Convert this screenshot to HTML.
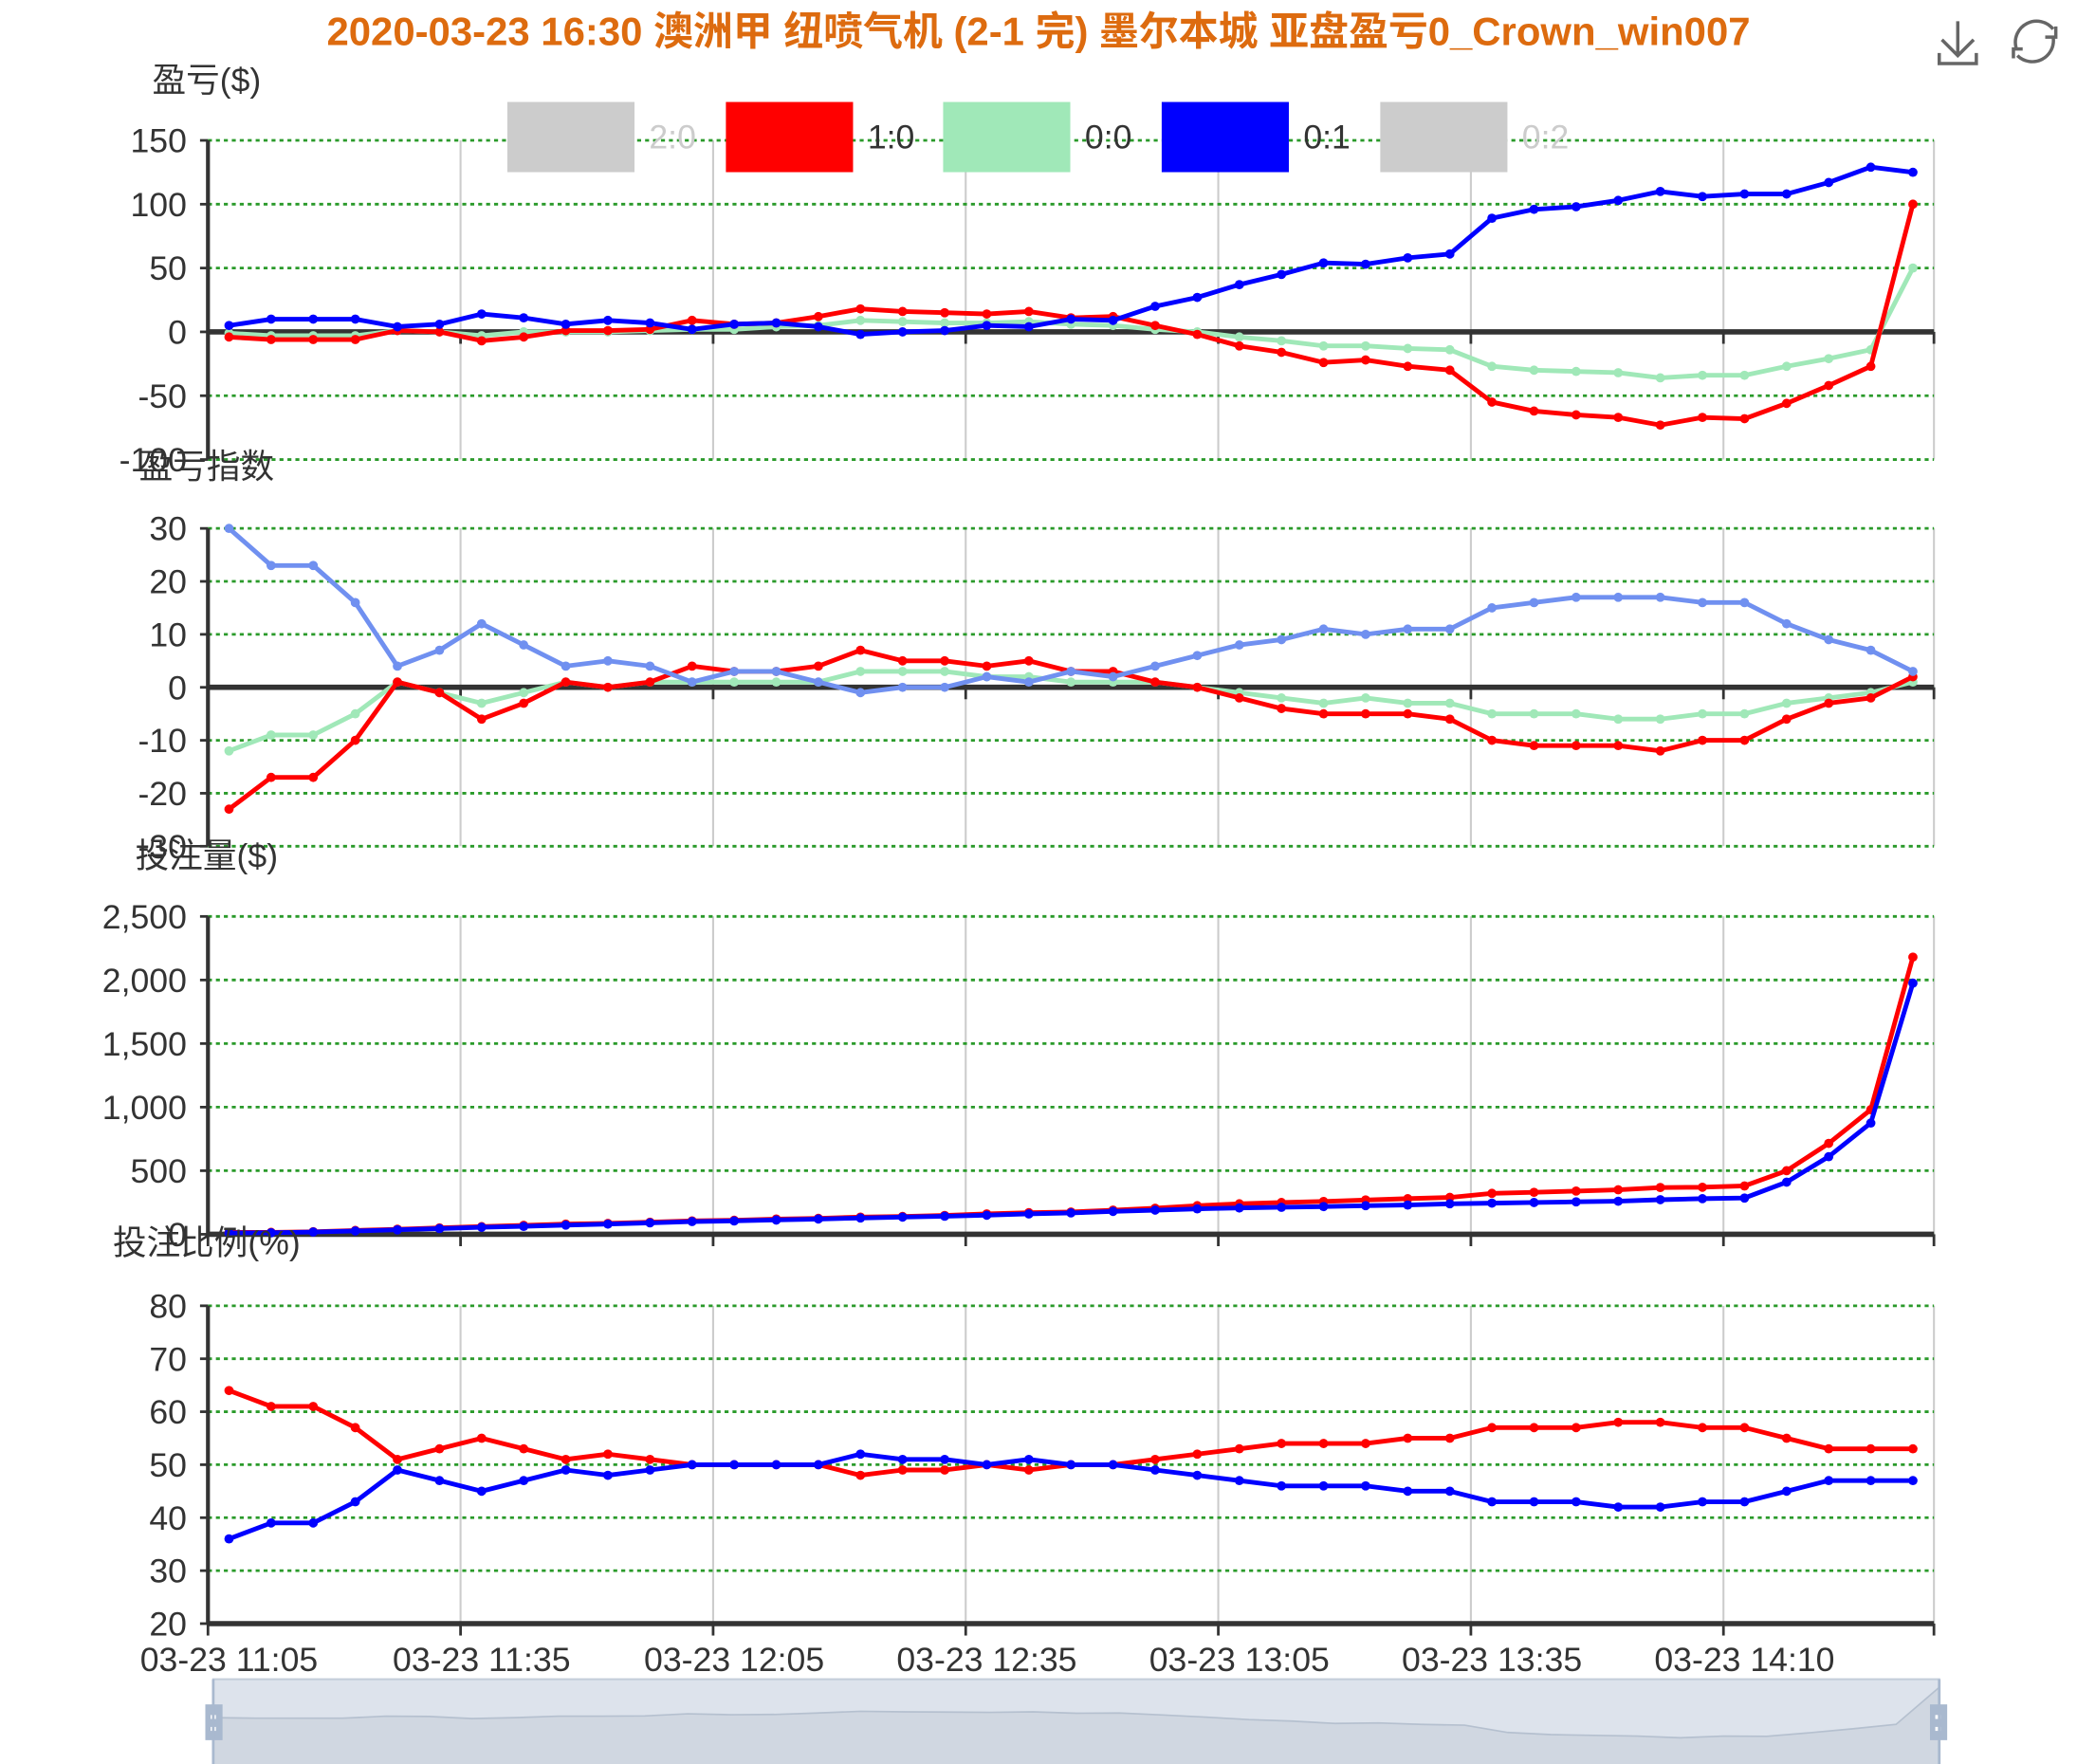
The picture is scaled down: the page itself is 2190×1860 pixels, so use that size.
<!DOCTYPE html>
<html><head><meta charset="utf-8">
<style>
html,body{margin:0;padding:0;background:#fff;}
svg{display:block;}
text{font-family:"Liberation Sans","Noto Sans CJK SC",sans-serif;}
</style></head>
<body>
<svg id="chart" width="2190" height="1860" viewBox="0 0 1568 1332" preserveAspectRatio="none" xmlns="http://www.w3.org/2000/svg">
<text x="784" y="34" text-anchor="middle" font-size="30" font-weight="bold" fill="#dd6b0f">2020-03-23 16:30 澳洲甲 纽喷气机 (2-1 完) 墨尔本城 亚盘盈亏0_Crown_win007</text>
<g stroke="#666" stroke-width="2.5" fill="none" transform="translate(8,0)">
<path d="M1470 16 V42 M1458 30 L1470 42 L1482 30 M1456 40 V48 H1484 V40"/>
</g>
<g stroke="#666" stroke-width="2.5" fill="none" transform="translate(8,0)">
<path d="M1514 36 A16 16 0 0 1 1542 22 M1542 28 A16 16 0 0 1 1515 42"/>
<path d="M1544 20 L1544 28 L1536 28" /><path d="M1512 44 L1512 37 L1519 37"/>
</g>
<g id="plots"></g>
</svg>
<script>
const times = ["03-23 11:05","03-23 11:10","03-23 11:15","03-23 11:20","03-23 11:25","03-23 11:30","03-23 11:35","03-23 11:40","03-23 11:45","03-23 11:50","03-23 11:55","03-23 12:00","03-23 12:05","03-23 12:10","03-23 12:15","03-23 12:20","03-23 12:25","03-23 12:30","03-23 12:35","03-23 12:40","03-23 12:45","03-23 12:50","03-23 12:55","03-23 13:00","03-23 13:05","03-23 13:10","03-23 13:15","03-23 13:20","03-23 13:25","03-23 13:30","03-23 13:35","03-23 13:40","03-23 13:45","03-23 13:50","03-23 13:55","03-23 14:05","03-23 14:10","03-23 14:15","03-23 14:20","03-23 14:25","03-23 14:30"];
const pl10 = [-4,-6,-6,-6,1,0,-7,-4,1,1,2,9,6,7,12,18,16,15,14,16,11,12,5,-2,-11,-16,-24,-22,-27,-30,-55,-62,-65,-67,-73,-67,-68,-56,-42,-27,100];
const pl00 = [-1,-3,-3,-3,1,0,-3,0,0,0,1,2,2,4,5,9,8,7,7,8,6,5,2,0,-4,-7,-11,-11,-13,-14,-27,-30,-31,-32,-36,-34,-34,-27,-21,-14,50];
const pl01 = [5,10,10,10,4,6,14,11,6,9,7,2,6,7,4,-2,0,1,5,4,10,9,20,27,37,45,54,53,58,61,89,96,98,103,110,106,108,108,117,129,125];
const idxMain = [30,23,23,16,4,7,12,8,4,5,4,1,3,3,1,-1,0,0,2,1,3,2,4,6,8,9,11,10,11,11,15,16,17,17,17,16,16,12,9,7,3];
const idx10 = [-23,-17,-17,-10,1,-1,-6,-3,1,0,1,4,3,3,4,7,5,5,4,5,3,3,1,0,-2,-4,-5,-5,-5,-6,-10,-11,-11,-11,-12,-10,-10,-6,-3,-2,2];
const idx00 = [-12,-9,-9,-5,1,-1,-3,-1,1,0,1,1,1,1,1,3,3,3,2,2,1,1,1,0,-1,-2,-3,-2,-3,-3,-5,-5,-5,-6,-6,-5,-5,-3,-2,-1,1];
const vol10 = [15,15,20,30,40,50,60,70,80,85,95,105,110,120,125,135,140,148,160,170,175,190,205,225,240,250,258,270,280,290,322,330,340,350,368,370,380,500,715,980,2180];
const vol01 = [10,12,18,26,35,45,55,62,72,80,90,100,105,112,120,128,135,142,150,160,168,180,190,200,207,212,218,225,230,240,245,250,255,260,272,280,285,410,610,875,1975];
const pct10 = [64,61,61,57,51,53,55,53,51,52,51,50,50,50,50,48,49,49,50,49,50,50,51,52,53,54,54,54,55,55,57,57,57,58,58,57,57,55,53,53,53];
const pct01 = [36,39,39,43,49,47,45,47,49,48,49,50,50,50,50,52,51,51,50,51,50,50,49,48,47,46,46,46,45,45,43,43,43,42,42,43,43,45,47,47,47];
const legendNames = ["2:0","1:0","0:0","0:1","0:2"];

const NS="http://www.w3.org/2000/svg";
const root=document.getElementById('plots');
function el(tag,attrs,parent){const e=document.createElementNS(NS,tag);for(const k in attrs)e.setAttribute(k,attrs[k]);(parent||root).appendChild(e);return e;}
const X0=157,X1=1460,N=times.length,BW=(X1-X0)/N;
const FS=25.5;
function xPos(i){return X0+BW*(i+0.5);}

function panel(p){
  const g=el('g',{});
  
  
  const yPos=v=>p.bot-(v-p.min)/(p.max-p.min)*(p.bot-p.top);
  for(let k=6;k<N;k+=6){const x=X0+BW*k;const l=el('line',{x1:x,x2:x,y1:p.top,y2:p.bot,stroke:'#ccc','stroke-width':1.5},g);}
  el('line',{x1:X1,x2:X1,y1:p.top,y2:p.bot,stroke:'#ccc','stroke-width':1.5},g);
  p.ticks.forEach((t,j)=>{
    const y=yPos(t);
    const l=el('line',{x1:X0,x2:X1,y1:y,y2:y,stroke:'#2a9a2a','stroke-width':2,'stroke-dasharray':'3,3'},g);
    
    
    el('line',{x1:X0-6,x2:X0,y1:y,y2:y,stroke:'#333','stroke-width':2},g);
    const tx=el('text',{x:X0-16,y:y+9,'text-anchor':'end','font-size':FS,fill:'#333'},g);
    tx.textContent=p.tickLabels[j];
    
    
  });
  el('line',{x1:X0,x2:X0,y1:p.top,y2:p.bot,stroke:'#333','stroke-width':3},g);
  const ya=yPos(p.axisAt);
  const ax=el('line',{x1:X0,x2:X1,y1:ya,y2:ya,stroke:'#333','stroke-width':4},g);
  
  
  for(let k=0;k<=N;k+=6){const x=X0+BW*k;el('line',{x1:x,x2:x,y1:ya,y2:ya+9,stroke:'#333','stroke-width':2},g);}
  el('line',{x1:X1,x2:X1,y1:ya,y2:ya+9,stroke:'#333','stroke-width':2},g);
  const tt=el('text',{x:156,y:p.titleY,'text-anchor':'middle','font-size':FS,fill:'#333'},g);
  tt.textContent=p.title;
  
  
  p.series.forEach(s=>{
    const pts=s.data.map((v,i)=>xPos(i).toFixed(1)+','+yPos(v).toFixed(1)).join(' ');
    const pl=el('polyline',{points:pts,fill:'none',stroke:s.color,'stroke-width':3.5,'stroke-linejoin':'round'},g);
    
    
    s.data.forEach((v,i)=>{
      const c=el('circle',{cx:xPos(i),cy:yPos(v),r:3.5,fill:s.color},g);
      
      
    });
  });
}
const RED='#ff0000',GRN='#a0e8b8',BLU='#0000ff',LBL='#7090f0';
panel({name:'profit-panel',top:106,bot:347,min:-100,max:150,axisAt:0,ticks:[150,100,50,0,-50,-100],tickLabels:['150','100','50','0','-50','-100'],title:'盈亏($)',titleY:69,
  series:[{name:'profit-0-0-line',color:GRN,data:pl00},{name:'profit-1-0-line',color:RED,data:pl10},{name:'profit-0-1-line',color:BLU,data:pl01}]});
panel({name:'index-panel',top:399,bot:639,min:-30,max:30,axisAt:0,ticks:[30,20,10,0,-10,-20,-30],tickLabels:['30','20','10','0','-10','-20','-30'],title:'盈亏指数',titleY:361,
  series:[{name:'index-0-0-line',color:GRN,data:idx00},{name:'index-1-0-line',color:RED,data:idx10},{name:'index-main-line',color:LBL,data:idxMain}]});
panel({name:'volume-panel',top:692,bot:932,min:0,max:2500,axisAt:0,ticks:[2500,2000,1500,1000,500,0],tickLabels:['2,500','2,000','1,500','1,000','500','0'],title:'投注量($)',titleY:655,
  series:[{name:'volume-1-0-line',color:RED,data:vol10},{name:'volume-0-1-line',color:BLU,data:vol01}]});
panel({name:'ratio-panel',top:986,bot:1226,min:20,max:80,axisAt:20,ticks:[80,70,60,50,40,30,20],tickLabels:['80','70','60','50','40','30','20'],title:'投注比例(%)',titleY:947,
  series:[{name:'ratio-1-0-line',color:RED,data:pct10},{name:'ratio-0-1-line',color:BLU,data:pct01}]});
for(let k=0;k<N;k+=6){
  const t=el('text',{x:xPos(k),y:1262,'text-anchor':'middle','font-size':FS,fill:'#333'});
  t.textContent=times[k];
  
  
}
const legColors=['#ccc',RED,GRN,BLU,'#ccc'];
const legX=[383,548,712,877,1042];
legendNames.forEach((n,i)=>{
  const g=el('g',{});
  
  
  el('rect',{x:legX[i],y:77,width:96,height:53,fill:legColors[i]},g);
  const t=el('text',{x:legX[i]+107,y:112,'font-size':FS,fill:(i==0||i==4)?'#ccc':'#333'},g);
  t.textContent=n;
});
const sl=el('g',{});


el('rect',{x:161,y:1268,width:1303,height:70,fill:'#dde3ec',stroke:'#c4ceda','stroke-width':1.5},sl);
const sx=i=>161+(1464-161)*i/(N-1);
const sy=v=>1297-(v+4)*0.22;
let d='M161,1338 '+pl10.map((v,i)=>'L'+sx(i).toFixed(1)+','+sy(v).toFixed(1)).join(' ')+' L1464,1338 Z';
el('path',{d:d,fill:'#d0d7e1',stroke:'#b5c0cf','stroke-width':1.2},sl);
[155,1457].forEach(x=>{
  const h=el('rect',{x:x,y:1287,width:13,height:27,fill:'#a9b9cf'},sl);
  
  
  el('rect',{x:x+4,y:1295,width:4,height:3,fill:'#fff'},sl);
  el('rect',{x:x+4,y:1304,width:4,height:3,fill:'#fff'},sl);
});
el('line',{x1:161,x2:161,y1:1268,y2:1338,stroke:'#a9b9cf','stroke-width':2},sl);
el('line',{x1:1464,x2:1464,y1:1268,y2:1338,stroke:'#a9b9cf','stroke-width':2},sl);
</script>
</body></html>
